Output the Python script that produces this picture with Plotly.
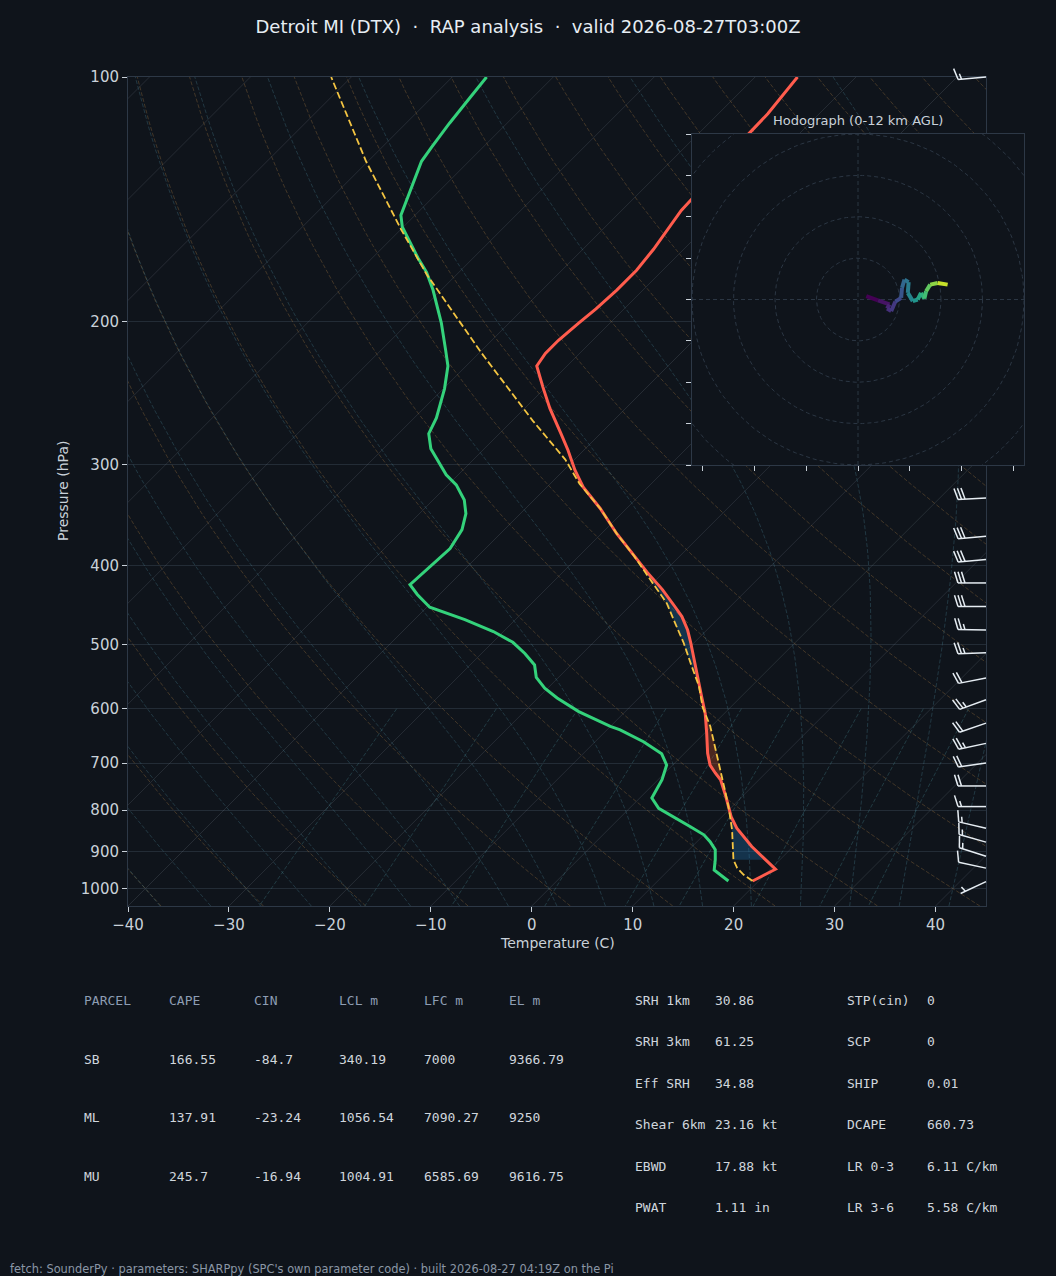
import numpy as np
import plotly.graph_objects as go
from plotly.colors import sample_colorscale

# ---- sounding (hPa, degC) ----
pres_t = [978, 946, 887, 842, 815, 770, 734, 720, 704, 681, 643, 608, 580, 553,
          522, 498, 480, 462, 449, 428, 407, 388, 365, 340, 320, 305, 288, 275,
          256, 241, 227, 219, 211, 201, 193, 183, 173, 163, 151, 146, 141, 118,
          111, 100]
temp = [19.4, 20.5, 15.9, 12.6, 10.9, 8.4, 6.2, 5.0, 3.7, 2.3, 0.2, -1.9, -3.9, -5.9,
        -8.3, -10.3, -11.9, -13.8, -15.5, -18.4, -21.7, -24.7, -28.5, -32.6, -36.4,
        -38.9, -41.6, -43.9, -47.5, -50.3, -53.0, -53.4, -53.4, -53.1, -52.8, -52.6,
        -52.6, -53.0, -53.8, -54.1, -54.2, -55.0, -55.1, -55.8]

pres_td = [978, 948, 921, 895, 875, 858, 838, 815, 796, 773, 734, 704, 682, 659,
           637, 631, 605, 582, 566, 549, 530, 513, 497, 482, 466, 450, 434, 422,
           405, 381, 361, 345, 332, 318, 309, 296, 287, 275, 263, 242, 227, 217,
           201, 183, 174, 167, 153, 148, 135, 127, 122, 114, 106, 100]
dwpt = [17.0, 14.5, 13.6, 12.6, 11.3, 10.0, 7.8, 5.2, 2.9, 1.2, 0.4, -0.6, -2.2, -5.2,
        -8.7, -10.0, -14.6, -18.1, -20.3, -22.2, -23.6, -25.7, -28.0, -31.0, -35.0,
        -39.7, -42.2, -43.9, -43.7, -43.5, -44.2, -45.4, -46.9, -49.2, -51.2, -53.6,
        -55.3, -57.0, -57.8, -59.9, -61.8, -63.6, -66.7, -70.8, -73.2, -75.5, -80.1,
        -81.4, -83.4, -84.7, -85.1, -85.7, -86.2, -86.6]

pres_pcl = [978, 961, 943, 921, 846, 799, 762, 714, 668, 631, 597, 563, 532, 498,
            469, 445, 416, 388, 365, 340, 317, 296, 265, 234, 219, 175, 154, 127, 100]
t_pcl = [19.4, 17.9, 16.6, 15.4, 12.3, 10.0, 8.0, 5.2, 2.4, -0.1, -2.8, -5.2, -7.9,
         -11.0, -14.0, -16.6, -20.6, -24.7, -28.5, -32.6, -37.1, -40.9, -48.0, -55.6,
         -59.7, -73.0, -80.0, -90.2, -102.0]

# shaded layers (bottom hPa, top hPa)
cin_layers = [(921, 762), (597, 390)]
cape_layers = [(762, 597)]

# wind barbs (hPa, kt, deg)
barb_p = [100, 330, 368, 393, 420, 449, 480, 512, 550, 585, 625, 662, 700, 747,
          792, 842, 876, 912, 943, 980]
barb_spd = [15, 30, 30, 30, 30, 30, 25, 25, 20, 25, 20, 25, 20, 20, 15, 15, 15, 15, 10, 5]
barb_dir = [265, 267, 265, 265, 270, 270, 271, 268, 259, 250, 251, 258, 262, 270,
            270, 283, 286, 288, 282, 245]

# hodograph (u, v) and height km
hodo_u = [2.0, 4.8, 7.6, 7.0, 8.0, 9.0, 10.4, 10.6, 11.2, 12.2, 12.0, 13.2, 14.4,
          15.2, 16.0, 16.4, 17.4, 19.2, 21.6]
hodo_v = [0.8, -0.2, -1.2, -2.2, -2.8, -0.5, 0.4, 2.8, 4.8, 4.2, 1.6, -0.4, 0.0,
          1.6, 0.2, 2.0, 3.6, 4.0, 3.6]
hodo_h = [0.0, 0.6, 1.2, 1.6, 2.0, 2.6, 3.2, 3.9, 4.5, 5.0, 5.5, 6.2, 7.0, 7.6,
          8.3, 9.0, 9.9, 11.0, 12.0]

# table
parcels = ["SB", "ML", "MU"]
cape = [166.55, 137.91, 245.7]
cin = [-84.7, -23.24, -16.94]
lcl_m = [340.19, 1056.54, 1004.91]
lfc_m = [7000, 7090.27, 6585.69]
el_m = [9366.79, 9250, 9616.75]
tbl_head = ["PARCEL", "CAPE", "CIN", "LCL m", "LFC m", "EL m"]

kin_names = ["SRH 1km", "SRH 3km", "Eff SRH", "Shear 6km", "EBWD", "PWAT"]
kin_vals = [30.86, 61.25, 34.88, 23.16, 17.88, 1.11]
kin_units = ["", "", "", " kt", " kt", " in"]
idx_names = ["STP(cin)", "SCP", "SHIP", "DCAPE", "LR 0-3", "LR 3-6"]
idx_vals = [0, 0, 0.01, 660.73, 6.11, 5.58]
idx_units = ["", "", "", "", " C/km", " C/km"]

# ---- geometry ----
W, H = 1056, 1276
PLOT_L, PLOT_R, PLOT_T, PLOT_B = 128, 986, 77, 906
T_MIN, T_MAX = -40, 45
P_BOT, P_TOP = 1050, 100
PX_PER_DEG = (PLOT_R - PLOT_L) / (T_MAX - T_MIN)
PX_PER_DEC = (PLOT_B - PLOT_T) / np.log10(P_BOT / P_TOP)
SKEW = PX_PER_DEC / PX_PER_DEG  # 45 degree isotherms

HODO_BOX = (692, 1024, 134, 465)
HODO_R = 40

BG = "#0f141b"
TXT = "#c9d1d9"
SPINE = "#2d3846"

RD, CP, LV, EPS = 287.04, 1005.7, 2.501e6, 0.622


def skew_x(t, p):
    return np.asarray(t, float) + SKEW * np.log10(P_BOT / np.asarray(p, float))


def sat_vp(tc):
    return 6.112 * np.exp(17.67 * tc / (tc + 243.5))


def moist_dtdp(p, tk):
    es = sat_vp(tk - 273.15)
    rs = EPS * es / (p - es)
    return (RD * tk + LV * rs) / (CP + LV * LV * rs * EPS / (RD * tk * tk)) / p


def moist_run(t0, p_end, n=90):
    ps = np.linspace(1000.0, p_end, n)
    t = t0 + 273.15
    out = [t]
    for p0, p1 in zip(ps[:-1], ps[1:]):
        h = p1 - p0
        k1 = moist_dtdp(p0, t)
        k2 = moist_dtdp(p0 + h / 2, t + h / 2 * k1)
        k3 = moist_dtdp(p0 + h / 2, t + h / 2 * k2)
        k4 = moist_dtdp(p1, t + h * k3)
        t = t + h / 6 * (k1 + 2 * k2 + 2 * k3 + k4)
        out.append(t)
    return ps, np.array(out) - 273.15


def interp_logp(pp, p_arr, t_arr):
    p_arr = np.asarray(p_arr, float)[::-1]
    t_arr = np.asarray(t_arr, float)[::-1]
    return np.interp(np.log(pp), np.log(p_arr), t_arr)


def line(x, y, color, width=1, dash=None, xa="x", ya="y"):
    return go.Scatter(x=x, y=y, mode="lines", xaxis=xa, yaxis=ya,
                      line=dict(color=color, width=width, dash=dash),
                      hoverinfo="skip", showlegend=False)


fig = go.Figure()

# isotherms
for t0 in range(-120, 41, 10):
    pp = np.array([P_BOT, P_TOP])
    fig.add_trace(line(skew_x([t0, t0], pp), pp, "rgba(130,140,155,0.2)", 1))

# dry adiabats
pp = np.geomspace(P_BOT, P_TOP, 60)
for t0 in range(-40, 201, 10):
    tt = (t0 + 273.15) * (pp / 1000.0) ** (RD / CP) - 273.15
    fig.add_trace(line(skew_x(tt, pp), pp, "rgba(150,110,60,0.38)", 1, "4px,2px"))

# moist adiabats
for t0 in range(-40, 46, 5):
    p_dn, t_dn = moist_run(t0, P_BOT, 12)
    p_up, t_up = moist_run(t0, P_TOP, 120)
    pm = np.concatenate([p_dn[::-1], p_up[1:]])
    tm = np.concatenate([t_dn[::-1], t_up[1:]])
    fig.add_trace(line(skew_x(tm, pm), pm, "rgba(70,130,150,0.32)", 1, "4px,2px"))

# mixing ratio lines
pmix = np.linspace(600, P_BOT, 20)
for w in [0.0004, 0.001, 0.002, 0.004, 0.007, 0.01, 0.016, 0.024, 0.032]:
    e = pmix * w / (EPS + w)
    lg = np.log(e / 6.112)
    td = 243.5 * lg / (17.67 - lg)
    fig.add_trace(line(skew_x(td, pmix), pmix, "rgba(70,140,150,0.32)", 1, "4px,2px"))

# CAPE / CIN shading
for layers, fc in [(cin_layers, "rgba(31,119,180,0.32)"), (cape_layers, "rgba(200,80,40,0.32)")]:
    for pb, ptop in layers:
        ps = np.geomspace(pb, ptop, 40)
        xt = skew_x(interp_logp(ps, pres_t, temp), ps)
        xp = skew_x(interp_logp(ps, pres_pcl, t_pcl), ps)
        fig.add_trace(go.Scatter(x=np.concatenate([xt, xp[::-1]]),
                                 y=np.concatenate([ps, ps[::-1]]),
                                 mode="lines", fill="toself", fillcolor=fc,
                                 line=dict(width=0), hoverinfo="skip", showlegend=False))

fig.add_trace(line(skew_x(dwpt, pres_td), pres_td, "#34d27b", 3))
fig.add_trace(line(skew_x(temp, pres_t), pres_t, "#ff5c4d", 3))
fig.add_trace(line(skew_x(t_pcl, pres_pcl), pres_pcl, "#f4c542", 1.8, "7px,3px"))

# ---- hodograph inset ----
R = HODO_R
fig.add_trace(go.Scatter(x=[-R, R, R, -R, -R], y=[-R, -R, R, R, -R], xaxis="x2", yaxis="y2",
                         mode="lines", fill="toself", fillcolor=BG, line=dict(width=0),
                         hoverinfo="skip", showlegend=False))
ang = np.linspace(0, 2 * np.pi, 181)
for r in range(10, 60, 10):
    fig.add_trace(line(r * np.cos(ang), r * np.sin(ang), "#2b3643", 1, "4px,3px", "x2", "y2"))
fig.add_trace(line([-R, R], [0, 0], "#2b3643", 1, "4px,3px", "x2", "y2"))
fig.add_trace(line([0, 0], [-R, R], "#2b3643", 1, "4px,3px", "x2", "y2"))
seg_cols = sample_colorscale("Viridis", [h / max(hodo_h) for h in hodo_h])
for i in range(len(hodo_u) - 1):
    fig.add_trace(line(hodo_u[i:i + 2], hodo_v[i:i + 2], seg_cols[i], 4, None, "x2", "y2"))

# ---- wind barbs (own overlay axes so they are not clipped at the top) ----
BARB_LEN = 28


def barb_path(p, spd, wdir):
    xs, ys = [], []
    a = np.deg2rad(wdir)
    s = np.array([np.sin(a), np.cos(a)])
    n = np.array([s[1], -s[0]])

    def add(pts):
        for dx, dy in pts:
            xs.append(T_MAX + dx / PX_PER_DEG)
            ys.append(p * 10 ** (-dy / PX_PER_DEC))
        xs.append(None)
        ys.append(None)

    L = BARB_LEN
    add([(0, 0), tuple(s * L)])
    n_full, rem = divmod(int(round(spd / 5.0)) * 5, 10)
    off = L
    for _ in range(n_full):
        add([tuple(s * off), tuple(s * (off + 0.125 * L) + n * 0.4 * L)])
        off -= 0.125 * L
    if rem >= 5:
        if off == L:
            off -= 1.5 * 0.125 * L
        add([tuple(s * off), tuple(s * (off + 0.0625 * L) + n * 0.2 * L)])
    return xs, ys


bx, by = [], []
for p, sp, d in zip(barb_p, barb_spd, barb_dir):
    xs, ys = barb_path(p, sp, d)
    bx += xs
    by += ys
fig.add_trace(line(bx, by, "#e6edf3", 1.5, None, "x3", "y3"))

# ---- text ----
def px(x):
    return x / W


def py(y):
    return 1 - y / H


PAD = 2  # annotation box padding
ann = []
ann.append(dict(x=px(557), y=py(943), text="Temperature (C)", font=dict(size=14, color=TXT)))
ann.append(dict(x=px(63), y=py(491), text="Pressure (hPa)", textangle=-90, font=dict(size=14, color=TXT)))
ann.append(dict(x=px(858), y=py(120), text="Hodograph (0-12 km AGL)", font=dict(size=13, color=TXT)))

MONO = "DejaVu Sans Mono"
col_x = [84, 169, 254, 339, 424, 509]
row_y = [1059, 1117, 1176]
for cx, hd in zip(col_x, tbl_head):
    ann.append(dict(x=px(cx - PAD), y=py(1000), text=hd, xanchor="left",
                    font=dict(family=MONO, size=13, color="#8d9db3")))
for i, name in enumerate(parcels):
    cells = [name] + [f"{v:g}" for v in (cape[i], cin[i], lcl_m[i], lfc_m[i], el_m[i])]
    for cx, c in zip(col_x, cells):
        ann.append(dict(x=px(cx - PAD), y=py(row_y[i]), text=c, xanchor="left",
                        font=dict(family=MONO, size=13, color="#d0d6dd")))

rows2 = [1000, 1041, 1083, 1124, 1166, 1207]
for i in range(6):
    for cx, c in [(635, kin_names[i]), (715, f"{kin_vals[i]:g}{kin_units[i]}"),
                  (847, idx_names[i]), (927, f"{idx_vals[i]:g}{idx_units[i]}")]:
        ann.append(dict(x=px(cx - PAD), y=py(rows2[i]), text=c, xanchor="left",
                        font=dict(family=MONO, size=13, color="#d0d6dd")))

ann.append(dict(x=px(10 - PAD), y=py(1269), xanchor="left",
                text="fetch: SounderPy · parameters: SHARPpy (SPC's own parameter code) · built 2026-08-27 04:19Z on the Pi",
                font=dict(size=11.4, color="#8b97a6")))
for a in ann:
    a.update(xref="paper", yref="paper", showarrow=False, yanchor="middle")
    a.setdefault("xanchor", "center")

ptick = list(range(100, 1001, 100))
ext_t, ext_r = 16, 14
no_auto = dict(automargin=False)

fig.update_layout(
    width=W, height=H, margin=dict(l=0, r=0, t=0, b=0, autoexpand=False),
    paper_bgcolor=BG, plot_bgcolor="rgba(0,0,0,0)", showlegend=False,
    font=dict(family="DejaVu Sans", color=TXT, size=15),
    title=dict(text="Detroit MI (DTX)\u00a0 ·\u00a0 RAP analysis\u00a0 ·\u00a0 valid 2026-08-27T03:00Z",
               x=0.5, xanchor="center", y=1 - 27 / H, yanchor="middle",
               font=dict(size=18, color="#e6edf3")),
    xaxis=dict(domain=[px(PLOT_L), px(PLOT_R)], range=[T_MIN, T_MAX], anchor="y",
               tickvals=list(range(-40, 41, 10)), ticks="outside", ticklen=5, tickcolor=TXT,
               showline=True, linecolor=SPINE, mirror=True, showgrid=False, zeroline=False,
               tickfont=dict(size=15, color=TXT), **no_auto),
    yaxis=dict(domain=[py(PLOT_B), py(PLOT_T)], type="log", anchor="x",
               range=[np.log10(P_BOT), np.log10(P_TOP)],
               tickvals=ptick, ticktext=[str(v) for v in ptick], ticks="outside", ticklen=5,
               tickcolor=TXT, showline=True, linecolor=SPINE, mirror=True,
               showgrid=True, gridcolor="#232c36", gridwidth=1, zeroline=False,
               tickfont=dict(size=15, color=TXT), **no_auto),
    xaxis2=dict(domain=[px(HODO_BOX[0]), px(HODO_BOX[1])], range=[-R, R], anchor="y2",
                tickvals=[-37.5, -25, -12.5, 0, 12.5, 25, 37.5], ticks="outside", ticklen=5,
                tickcolor=TXT, showticklabels=False, showline=True, linecolor=SPINE,
                mirror=True, showgrid=False, zeroline=False, **no_auto),
    yaxis2=dict(domain=[py(HODO_BOX[3]), py(HODO_BOX[2])], range=[-R, R], anchor="x2",
                tickvals=list(range(-40, 41, 10)), ticks="outside", ticklen=5,
                tickcolor=TXT, showticklabels=False, showline=True, linecolor=SPINE,
                mirror=True, showgrid=False, zeroline=False, **no_auto),
    xaxis3=dict(domain=[px(PLOT_L), px(PLOT_R + ext_r)], anchor="y3", visible=False,
                range=[T_MIN, T_MAX + ext_r / PX_PER_DEG], **no_auto),
    yaxis3=dict(domain=[py(PLOT_B), py(PLOT_T - ext_t)], anchor="x3", visible=False, type="log",
                range=[np.log10(P_BOT), np.log10(P_TOP) - ext_t / PX_PER_DEC], **no_auto),
    annotations=ann,
)

fig.write_html("out.html", config={"displayModeBar": False},
               post_script="document.body.style.margin='0';document.body.style.overflow='hidden';")
